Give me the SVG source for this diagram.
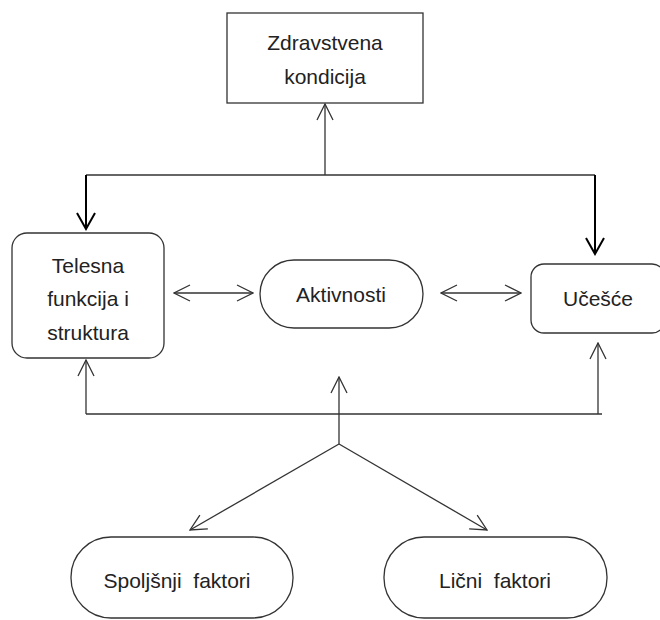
<svg xmlns="http://www.w3.org/2000/svg" width="660" height="620" viewBox="0 0 660 620">
<defs>
<marker id="a" viewBox="0 0 18 18" refX="17" refY="9" markerWidth="18" markerHeight="18" markerUnits="userSpaceOnUse" orient="auto-start-reverse">
<path d="M1,1 L17,9 L1,17" fill="none" stroke="#333" stroke-width="1.3"/>
</marker>
<marker id="b" viewBox="0 0 20 20" refX="18" refY="10" markerWidth="20" markerHeight="20" markerUnits="userSpaceOnUse" orient="auto">
<path d="M2,1 L18,10 L2,19" fill="none" stroke="#000" stroke-width="2"/>
</marker>
<style>
.n{fill:#fff;stroke:#333;stroke-width:1.3}
.t{font-family:"Liberation Sans",Arial,sans-serif;font-size:21px;fill:#222;text-anchor:middle}
.c{fill:none;stroke:#333;stroke-width:1.3}
.k{fill:none;stroke:#000;stroke-width:2}
</style>
</defs>
<rect width="660" height="620" fill="#fff"/>
<g id="connectors">
<line class="c" x1="325" y1="175" x2="325" y2="104" marker-end="url(#a)"/>
<line class="c" x1="86" y1="175" x2="595" y2="175"/>
<line class="k" x1="86" y1="175" x2="86" y2="229" marker-end="url(#b)"/>
<line class="k" x1="595" y1="175" x2="595" y2="254" marker-end="url(#b)"/>
<line class="c" x1="174" y1="293" x2="253" y2="293" marker-start="url(#a)" marker-end="url(#a)"/>
<line class="c" x1="441" y1="293" x2="521" y2="293" marker-start="url(#a)" marker-end="url(#a)"/>
<line class="c" x1="86" y1="414" x2="602" y2="414"/>
<line class="c" x1="86" y1="414" x2="86" y2="360" marker-end="url(#a)"/>
<line class="c" x1="598" y1="414" x2="598" y2="343" marker-end="url(#a)"/>
<line class="c" x1="339" y1="444" x2="339" y2="377" marker-end="url(#a)"/>
<line class="c" x1="339" y1="444" x2="190" y2="530" marker-end="url(#a)"/>
<line class="c" x1="339" y1="444" x2="487" y2="530" marker-end="url(#a)"/>
</g>
<g id="zdravstvena">
<rect class="n" x="227" y="13" width="196" height="90"/>
<text class="t" x="325" y="50">Zdravstvena</text>
<text class="t" x="325" y="84">kondicija</text>
</g>
<g id="telesna">
<rect class="n" x="12" y="233" width="152" height="125" rx="15"/>
<text class="t" x="88" y="273">Telesna</text>
<text class="t" x="88" y="306">funkcija i</text>
<text class="t" x="88" y="340">struktura</text>
</g>
<g id="aktivnosti">
<rect class="n" x="260" y="260" width="163" height="68" rx="34"/>
<text class="t" x="341" y="302">Aktivnosti</text>
</g>
<g id="ucesce">
<rect class="n" x="531" y="264" width="134" height="69" rx="13"/>
<text class="t" x="598" y="306">Učešće</text>
</g>
<g id="spoljasnji">
<rect class="n" x="71" y="537" width="222" height="81" rx="40"/>
<text class="t" x="177" y="588" xml:space="preserve">Spoljšnji  faktori</text>
</g>
<g id="licni">
<rect class="n" x="384" y="537" width="223" height="81" rx="40"/>
<text class="t" x="495" y="588" xml:space="preserve">Lični  faktori</text>
</g>
</svg>
